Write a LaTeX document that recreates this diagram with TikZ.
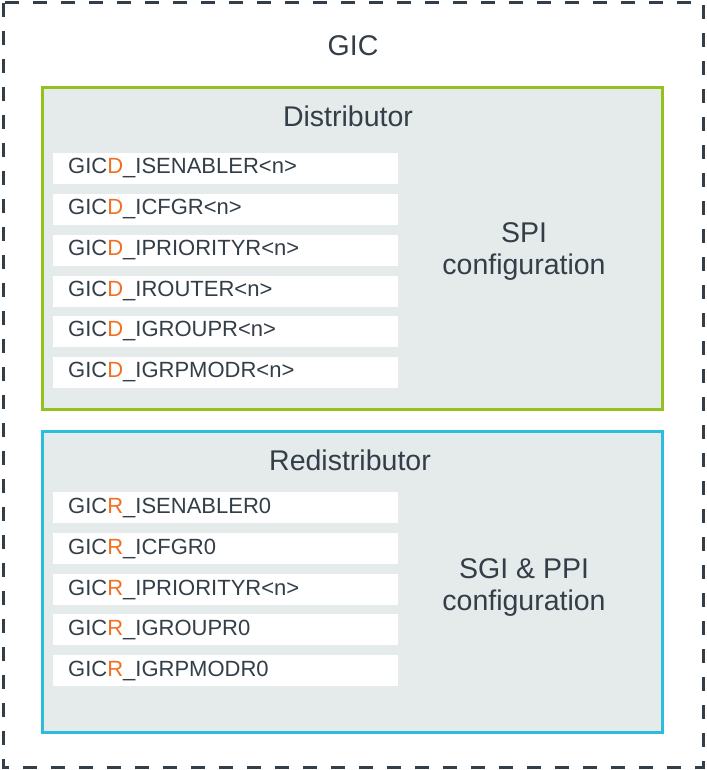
\documentclass[tikz,border=0pt]{standalone}
\usepackage{fontspec}
\setmainfont{Liberation Sans}
\definecolor{ink}{HTML}{333E48}
\definecolor{orng}{HTML}{F26F21}
\definecolor{grn}{HTML}{95C11F}
\definecolor{cyn}{HTML}{2CBCDE}
\definecolor{panel}{HTML}{E5EAEA}
\begin{document}
\begin{tikzpicture}[x=1pt,y=-1pt,
  outer/.style={draw=ink,line width=3pt,dash pattern=on 14pt off 14pt},
  distbox/.style={draw=grn,fill=panel,line width=3pt},
  redbox/.style={draw=cyn,fill=panel,line width=3pt},
  reg/.style={fill=white,draw=none,minimum width=345pt,minimum height=31pt,inner sep=0pt,anchor=north west},
  regtext/.style={font=\fontsize{22}{26}\selectfont,text=ink,anchor=west,inner sep=0pt},
  title/.style={font=\fontsize{28.5}{34}\selectfont,text=ink,inner sep=0pt},
  side/.style={font=\fontsize{28.5}{32}\selectfont,text=ink,align=center,inner sep=0pt}]
\useasboundingbox (0,0) rectangle (706,770);
\draw[outer] (3,3) rectangle (703,767);
\node[title] (gic) at (353,46) {GIC};
\draw[distbox] (42,88) rectangle (662,409);
\draw[redbox] (42,431) rectangle (662,732);
\node[title] (dist) at (348,116) {Distributor};
\node[title] (redist) at (350,460) {Redistributor};
\newcommand{\D}{\textcolor{orng}{D}}
\newcommand{\R}{\textcolor{orng}{R}}
\foreach \n/\y/\t in {1/153/{GIC\D\_ISENABLER<n>},2/194/{GIC\D\_ICFGR<n>},3/235/{GIC\D\_IPRIORITYR<n>},4/276/{GIC\D\_IROUTER<n>},5/316/{GIC\D\_IGROUPR<n>},6/357/{GIC\D\_IGRPMODR<n>}}{
  \node[reg] (d\n) at (53,\y) {};
  \node[regtext] (dt\n) at (68,\y+15.5) {\t};
}
\foreach \n/\y/\t in {1/492/{GIC\R\_ISENABLER0},2/533/{GIC\R\_ICFGR0},3/574/{GIC\R\_IPRIORITYR<n>},4/614/{GIC\R\_IGROUPR0},5/655/{GIC\R\_IGRPMODR0}}{
  \node[reg] (r\n) at (53,\y) {};
  \node[regtext] (rt\n) at (68,\y+15.5) {\t};
}
\node[side] (spi) at (524,252) {SPI\\configuration};
\node[side] (sgi) at (524,587) {SGI \& PPI\\configuration};
\end{tikzpicture}
\end{document}
